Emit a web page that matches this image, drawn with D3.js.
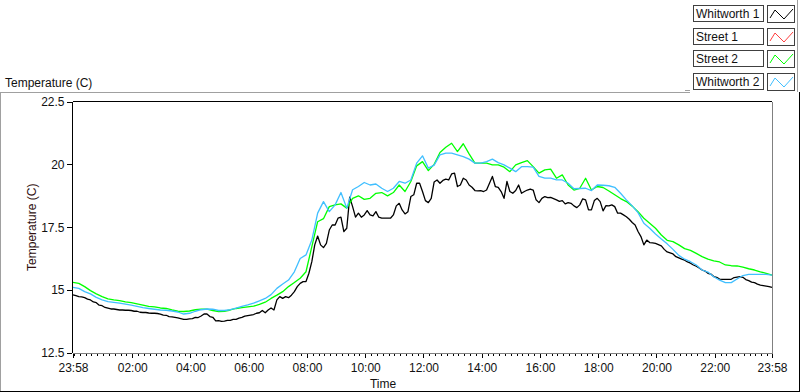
<!DOCTYPE html>
<html>
<head>
<meta charset="utf-8">
<script src="https://cdn.jsdelivr.net/npm/d3@7"></script>
<style>
  body { margin: 0; background: #fff; }
  svg { display: block; font-family: "Liberation Sans", Arial, sans-serif; }
</style>
</head>
<body>
<div id="chart"></div>
<script>
const seriesNames = ['Whitworth 1', 'Street 1', 'Street 2', 'Whitworth 2'];
const seriesColors = ['#000000', '#ff4040', '#00ff00', '#40bfff'];
// minutes between samples, per series, starting 23:58
const seriesSteps = [6, 12, 12, 12];

const whitworth1 = [
  14.81, 14.78, 14.74, 14.73, 14.70, 14.64, 14.61, 14.53, 14.50, 14.40,
  14.38, 14.31, 14.28, 14.25, 14.25, 14.23, 14.21, 14.21, 14.20, 14.20,
  14.19, 14.16, 14.16, 14.12, 14.11, 14.11, 14.09, 14.08, 14.08, 14.07,
  14.05, 14.01, 14.00, 13.95, 13.94, 13.92, 13.90, 13.87, 13.84, 13.84,
  13.86, 13.87, 13.92, 13.91, 13.97, 14.05, 14.05, 13.95, 13.92, 13.78,
  13.79, 13.76, 13.77, 13.80, 13.80, 13.84, 13.84, 13.89, 13.92, 13.97,
  13.99, 14.01, 14.03, 14.08, 14.10, 14.19, 14.10, 14.21, 14.29, 14.21,
  14.61, 14.74, 14.67, 14.74, 14.70, 14.80, 14.94, 15.14, 15.27, 15.34,
  15.34, 15.67, 16.13, 16.80, 17.15, 16.80, 16.69, 16.86, 17.39, 17.59,
  17.59, 17.86, 17.90, 17.33, 17.46, 18.70, 18.32, 17.90, 18.06, 17.90,
  17.99, 18.16, 17.99, 17.95, 18.12, 17.90, 17.86, 17.86, 17.86, 17.86,
  17.99, 18.35, 18.45, 18.19, 18.03, 18.12, 18.72, 18.79, 19.25, 19.25,
  18.92, 18.56, 18.48, 18.65, 19.30, 19.38, 19.25, 19.36, 19.41, 19.38,
  19.62, 19.65, 19.12, 19.18, 19.45, 19.38, 19.18, 19.09, 18.96, 18.95,
  18.96, 18.92, 18.98, 19.25, 19.52, 19.12, 19.09, 18.92, 18.65, 19.32,
  18.92, 18.85, 18.96, 19.18, 18.85, 18.92, 18.98, 19.02, 18.98, 18.59,
  18.48, 18.65, 18.72, 18.68, 18.69, 18.64, 18.59, 18.53, 18.56, 18.43,
  18.48, 18.45, 18.35, 18.28, 18.39, 18.63, 18.59, 18.19, 18.19, 18.56,
  18.65, 18.52, 18.15, 18.36, 18.35, 18.39, 18.32, 18.06, 18.06, 17.99,
  17.92, 17.82, 17.69, 17.59, 17.33, 17.13, 16.80, 16.99, 16.89, 16.88,
  16.86, 16.81, 16.76, 16.62, 16.52, 16.48, 16.44, 16.33, 16.28, 16.23,
  16.19, 16.12, 16.07, 16.00, 15.95, 15.88, 15.80, 15.76, 15.67, 15.64,
  15.54, 15.51, 15.44, 15.43, 15.43, 15.43, 15.43, 15.50, 15.52, 15.54,
  15.51, 15.42, 15.38, 15.32, 15.30, 15.24, 15.20, 15.18, 15.16, 15.14,
  15.11
];

// Street 1 has no visible trace in the plot
const street1 = [];

const street2 = [
  15.31, 15.27, 15.14, 14.98, 14.85, 14.74, 14.65, 14.61, 14.58, 14.53,
  14.50, 14.45, 14.40, 14.35, 14.33, 14.29, 14.27, 14.21, 14.16, 14.15,
  14.17, 14.22, 14.24, 14.24, 14.19, 14.15, 14.16, 14.21, 14.27, 14.30,
  14.33, 14.36, 14.43, 14.52, 14.67, 14.80, 14.94, 15.14, 15.30, 15.47,
  15.73, 16.73, 17.72, 17.84, 18.32, 18.39, 18.43, 18.26, 18.65, 18.75,
  18.61, 18.65, 18.85, 18.88, 18.75, 18.88, 19.18, 18.92, 19.32, 19.94,
  20.11, 19.75, 20.00, 20.47, 20.68, 20.84, 20.51, 20.82, 20.42, 20.05,
  20.05, 20.05, 19.98, 19.98, 19.89, 19.71, 19.98, 20.07, 20.15, 19.91,
  19.65, 19.78, 19.81, 19.45, 19.58, 19.18, 18.98, 19.05, 19.45, 18.98,
  19.12, 19.08, 18.94, 18.79, 18.64, 18.52, 18.34, 18.12, 17.86, 17.66,
  17.46, 17.19, 16.98, 16.93, 16.80, 16.65, 16.58, 16.46, 16.33, 16.23,
  16.16, 16.12, 16.00, 15.97, 15.96, 15.91, 15.85, 15.80, 15.73, 15.67, 15.60
];

const whitworth2 = [
  15.11, 15.07, 14.94, 14.85, 14.71, 14.61, 14.54, 14.51, 14.48, 14.44,
  14.40, 14.35, 14.30, 14.27, 14.24, 14.21, 14.20, 14.17, 14.13, 14.05,
  14.08, 14.16, 14.22, 14.25, 14.24, 14.19, 14.19, 14.22, 14.28, 14.35,
  14.41, 14.48, 14.57, 14.67, 14.82, 15.07, 15.24, 15.40, 15.73, 16.26,
  16.40, 16.99, 18.06, 18.52, 18.12, 18.39, 18.88, 18.26, 18.99, 19.12,
  19.28, 19.18, 19.22, 19.05, 18.92, 19.05, 19.32, 19.25, 19.38, 20.05,
  20.34, 19.85, 19.97, 20.38, 20.45, 20.45, 20.38, 20.31, 20.21, 20.05,
  20.05, 20.11, 20.21, 20.07, 19.98, 19.85, 19.71, 19.91, 19.91, 19.89,
  19.52, 19.45, 19.45, 19.38, 19.38, 19.25, 19.03, 19.04, 19.05, 18.96,
  19.18, 19.17, 19.15, 19.09, 18.85, 18.59, 18.35, 18.08, 17.66, 17.46,
  17.23, 17.03, 16.84, 16.62, 16.38, 16.23, 16.13, 16.00, 15.80, 15.72,
  15.53, 15.40, 15.30, 15.30, 15.44, 15.58, 15.63, 15.63, 15.63, 15.63, 15.60
];

const yTicks = [12.5, 15, 17.5, 20, 22.5];
const xTickLabels = ['23:58', '02:00', '04:00', '06:00', '08:00', '10:00', '12:00',
  '14:00', '16:00', '18:00', '20:00', '22:00', '23:58'];
const minorTickMinutes = 12;

const allSeries = [whitworth1, street1, street2, whitworth2];

const width = 800;
const height = 392;
const plot = { left: 73, top: 101.5, right: 772, bottom: 353 };

const start = new Date(Date.UTC(2013, 0, 1, 23, 58));
const end = d3.utcDay.offset(start, 1);

// first label is on day one, the rest fall on the following day
const majorTicks = xTickLabels.map((lab, i) => {
  const [h, m] = lab.split(':').map(Number);
  return new Date(Date.UTC(2013, 0, i === 0 ? 1 : 2, h, m));
});

const svg = d3.select('#chart')
  .append('svg')
  .attr('width', width)
  .attr('height', height);

const x = d3.scaleUtc()
  .domain([start, end])
  .range([plot.left, plot.right]);

const y = d3.scaleLinear()
  .domain([12.5, 22.5])
  .range([plot.bottom, plot.top]);

// panel frame
const frame = svg.append('g').attr('shape-rendering', 'crispEdges');
frame.append('line').attr('x1', 0).attr('x2', 690).attr('y1', 92.5).attr('y2', 92.5).attr('stroke', '#a0a0a0');
frame.append('line').attr('x1', 0.5).attr('x2', 0.5).attr('y1', 92).attr('y2', 392).attr('stroke', '#a0a0a0');
frame.append('line').attr('x1', 0).attr('x2', 800).attr('y1', 391.5).attr('y2', 391.5).attr('stroke', '#000');
frame.append('line').attr('x1', 799.5).attr('x2', 799.5).attr('y1', 92).attr('y2', 392).attr('stroke', '#000');
frame.append('line').attr('x1', 797.5).attr('x2', 797.5).attr('y1', 0).attr('y2', 92).attr('stroke', '#a0a0a0');
frame.append('line').attr('x1', 685).attr('x2', 690).attr('y1', 90.5).attr('y2', 90.5).attr('stroke', '#a0a0a0');

svg.append('text')
  .attr('x', 5)
  .attr('y', 86.5)
  .attr('font-size', 12)
  .attr('fill', '#111')
  .text('Temperature (C)');

// y axis
const yAxis = svg.append('g')
  .attr('transform', `translate(${plot.left - 1.5},0)`)
  .call(d3.axisLeft(y).tickValues(yTicks).tickSize(5).tickPadding(2).tickFormat(d3.format('')))
  .attr('font-family', null)
  .attr('font-size', 12)
  .attr('shape-rendering', 'crispEdges');
yAxis.select('.domain').remove();
yAxis.selectAll('text').attr('fill', '#111');

svg.append('text')
  .attr('transform', `translate(36,${(plot.top + plot.bottom) / 2}) rotate(-90)`)
  .attr('text-anchor', 'middle')
  .attr('font-size', 12)
  .attr('fill', '#301010')
  .text('Temperature (C)');

// x axis: minor ticks every 12 minutes, major ticks at the labels
const xMinor = svg.append('g')
  .attr('transform', `translate(0,${plot.bottom})`)
  .call(d3.axisBottom(x).ticks(d3.utcMinute.every(minorTickMinutes)).tickSize(3).tickFormat(''))
  .attr('shape-rendering', 'crispEdges');
xMinor.select('.domain').remove();

const xAxis = svg.append('g')
  .attr('transform', `translate(0,${plot.bottom})`)
  .call(d3.axisBottom(x).tickValues(majorTicks).tickSize(5).tickPadding(5)
    .tickFormat((d, i) => xTickLabels[i]))
  .attr('font-family', null)
  .attr('font-size', 12)
  .attr('shape-rendering', 'crispEdges');
xAxis.select('.domain').remove();
xAxis.selectAll('text').attr('fill', '#111');

svg.append('text')
  .attr('x', 383)
  .attr('y', 388)
  .attr('text-anchor', 'middle')
  .attr('font-size', 12)
  .attr('fill', '#111')
  .text('Time');

// plot area
const plotArea = svg.append('g');
plotArea.append('rect')
  .attr('x', plot.left)
  .attr('y', plot.top)
  .attr('width', plot.right - plot.left)
  .attr('height', plot.bottom - plot.top)
  .attr('fill', '#fff');

const lineFor = step => d3.line()
  .x((d, i) => x(d3.utcMinute.offset(start, i * step)))
  .y(d => y(d));

plotArea.selectAll('.series')
  .data(allSeries)
  .enter().append('path')
  .attr('class', 'series')
  .attr('d', (d, i) => d.length ? lineFor(seriesSteps[i])(d) : null)
  .attr('fill', 'none')
  .attr('stroke', (d, i) => seriesColors[i])
  .attr('stroke-width', 1.3)
  .attr('stroke-linejoin', 'round');

const border = svg.append('g').attr('shape-rendering', 'crispEdges');
border.append('line').attr('x1', plot.left - 0.5).attr('x2', plot.right).attr('y1', plot.top).attr('y2', plot.top).attr('stroke', '#000');
border.append('line').attr('x1', plot.left - 0.5).attr('x2', plot.left - 0.5).attr('y1', plot.top).attr('y2', plot.bottom).attr('stroke', '#000');
border.append('line').attr('x1', plot.right + 0.5).attr('x2', plot.right + 0.5).attr('y1', plot.top).attr('y2', plot.bottom + 1).attr('stroke', '#808080');
border.append('line').attr('x1', plot.left - 0.5).attr('x2', plot.right + 1).attr('y1', plot.bottom + 0.5).attr('y2', plot.bottom + 0.5).attr('stroke', '#808080');

// legend
const legend = svg.append('g');
const entries = legend.selectAll('.entry')
  .data(seriesNames)
  .enter().append('g')
  .attr('class', 'entry')
  .attr('transform', (d, i) => `translate(693,${5 + Math.round(i * 22.5)})`);

entries.append('rect')
  .attr('x', 0.5).attr('y', 0.5)
  .attr('width', 70).attr('height', 16)
  .attr('fill', '#fff')
  .attr('stroke', '#404040')
  .attr('shape-rendering', 'crispEdges');

entries.append('text')
  .attr('x', 3)
  .attr('y', 13)
  .attr('font-size', 12)
  .attr('fill', '#111')
  .text(d => d);

entries.append('rect')
  .attr('x', 74.5).attr('y', 0.5)
  .attr('width', 27).attr('height', 17)
  .attr('fill', '#fff')
  .attr('stroke', '#404040')
  .attr('shape-rendering', 'crispEdges');

entries.append('path')
  .attr('d', 'M77,13 L82,5 L91,14 L100,4')
  .attr('fill', 'none')
  .attr('stroke', (d, i) => seriesColors[i])
  .attr('stroke-width', 1);
</script>
</body>
</html>
